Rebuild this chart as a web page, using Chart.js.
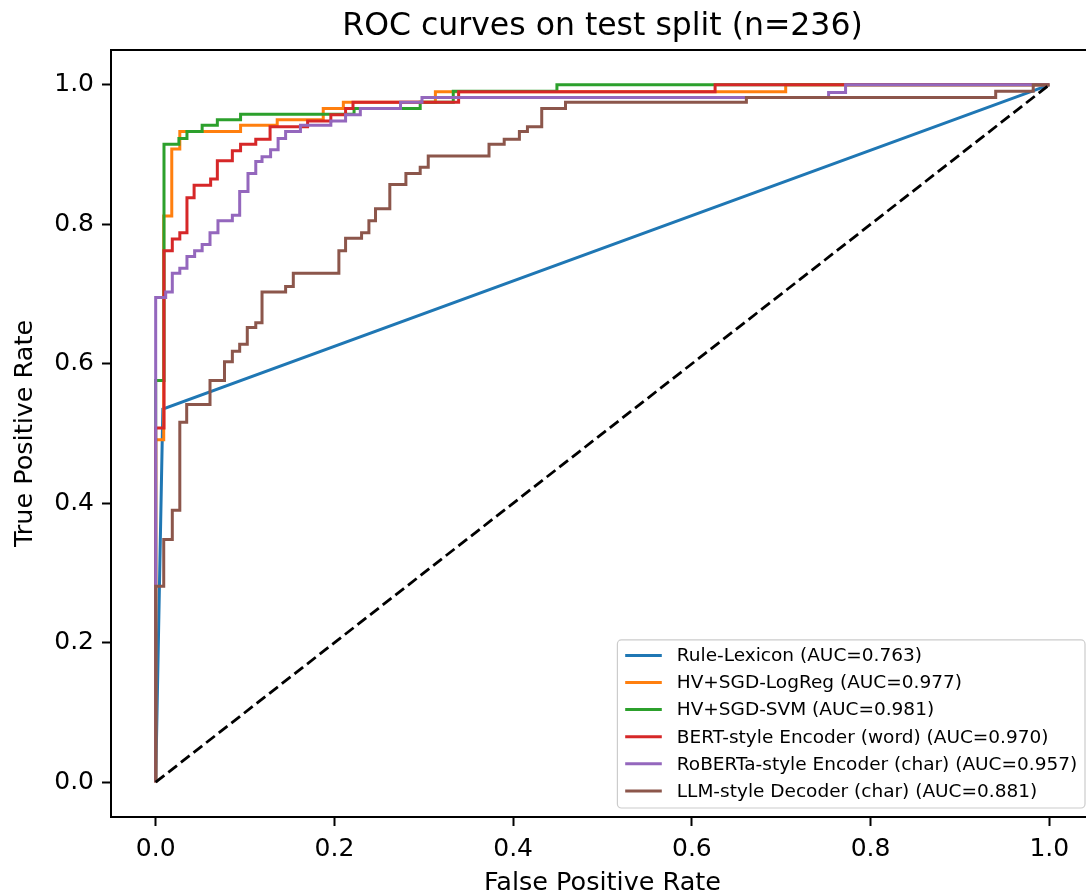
<!DOCTYPE html>
<html>
<head>
<meta charset="utf-8">
<title>ROC curves</title>
<script src="https://cdn.jsdelivr.net/npm/chart.js@4.4.1/dist/chart.umd.min.js"></script>
<style>
html,body{margin:0;padding:0;background:#fff;overflow:hidden;}
#wrap{width:1100px;height:910px;}
</style>
</head>
<body>
<div id="wrap"><canvas id="rocChart" width="1100" height="910"></canvas></div>
<script>
// =========================
// DATA
// =========================
const tickValues = [0, 0.2, 0.4, 0.6, 0.8, 1.0];

const modelNames = ['Rule-Lexicon', 'HV+SGD-LogReg', 'HV+SGD-SVM',
  'BERT-style Encoder (word)', 'RoBERTa-style Encoder (char)', 'LLM-style Decoder (char)'];
const aucValues = [0.763, 0.977, 0.981, 0.970, 0.957, 0.881];
const lineColors = ['#1f77b4', '#ff7f0e', '#2ca02c', '#d62728', '#9467bd', '#8c564b'];

// chance line
const chanceFpr = [0, 1];
const chanceTpr = [0, 1];

// Rule-Lexicon (three points, straight segments)
const ruleFpr = [0, 0.008, 1];
const ruleTpr = [0, 0.535, 1];

// the others are staircases: each point is the top of a riser
const logregFpr = [0, 0, 0.009, 0.018, 0.027, 0.095, 0.136, 0.1875, 0.21, 0.313, 0.705, 1];
const logregTpr = [0, 0.491, 0.812, 0.908, 0.933, 0.942, 0.950, 0.966, 0.975, 0.990, 1.0, 1];

const svmFpr = [0, 0, 0.0093, 0.026, 0.035, 0.052, 0.069, 0.095, 0.222, 0.296, 0.333, 0.449, 1];
const svmTpr = [0, 0.576, 0.915, 0.923, 0.933, 0.942, 0.950, 0.958, 0.966, 0.975, 0.991, 1.0, 1];

const bertFpr = [0, 0, 0.0093, 0.0186, 0.027, 0.035, 0.043, 0.0615, 0.069, 0.0858, 0.095,
  0.112, 0.128, 0.17, 0.196, 0.2125, 0.2208, 0.339, 0.626, 1];
const bertTpr = [0, 0.508, 0.762, 0.779, 0.788, 0.838, 0.856, 0.865, 0.891, 0.9055, 0.915,
  0.922, 0.940, 0.948, 0.957, 0.966, 0.975, 0.990, 1.0, 1];

const robertaFpr = [0, 0, 0.0112, 0.0186, 0.027, 0.035, 0.0436, 0.052, 0.0608, 0.0697, 0.0858,
  0.094, 0.1033, 0.112, 0.119, 0.1286, 0.137, 0.1454, 0.162, 0.196, 0.2125, 0.229, 0.274,
  0.298, 0.753, 0.772, 1];
const robertaTpr = [0, 0.695, 0.703, 0.730, 0.737, 0.754, 0.762, 0.771, 0.788, 0.805, 0.813,
  0.847, 0.873, 0.890, 0.897, 0.907, 0.923, 0.933, 0.942, 0.948, 0.957, 0.966, 0.975,
  0.982, 0.989, 1.0, 1];

const llmFpr = [0, 0, 0.009, 0.0186, 0.027, 0.0347, 0.0608, 0.077, 0.0858, 0.094, 0.1025,
  0.112, 0.119, 0.1454, 0.154, 0.205, 0.2125, 0.2304, 0.2386, 0.246, 0.262, 0.280, 0.296,
  0.305, 0.373, 0.39, 0.407, 0.416, 0.432, 0.4586, 0.661, 0.94, 0.982, 1];
const llmTpr = [0, 0.281, 0.348, 0.390, 0.516, 0.5417, 0.576, 0.603, 0.618, 0.628, 0.652,
  0.659, 0.703, 0.711, 0.730, 0.762, 0.780, 0.788, 0.805, 0.8225, 0.857, 0.873, 0.882,
  0.898, 0.915, 0.922, 0.933, 0.940, 0.966, 0.975, 0.982, 0.991, 1.0, 1];

const allFpr = [ruleFpr, logregFpr, svmFpr, bertFpr, robertaFpr, llmFpr];
const allTpr = [ruleTpr, logregTpr, svmTpr, bertTpr, robertaTpr, llmTpr];

function toPoints(xs, ys){
  return xs.map((x, i) => ({x: x, y: ys[i]}));
}

// =========================
// DATASETS
// =========================
const datasets = modelNames.map((name, i) => ({
  label: name + ' (AUC=' + aucValues[i].toFixed(3) + ')',
  data: toPoints(allFpr[i], allTpr[i]),
  borderColor: lineColors[i],
  backgroundColor: lineColors[i],
  borderWidth: 3,
  pointRadius: 0,
  showLine: true,
  fill: false,
  stepped: i === 0 ? false : 'before',
  order: 10 - i   // later curves sit on top, like matplotlib
}));
datasets.push({
  label: '',
  isChance: true,
  data: toPoints(chanceFpr, chanceTpr),
  borderColor: '#000',
  borderWidth: 2.8,
  borderDash: [11, 5],
  pointRadius: 0,
  showLine: true,
  fill: false,
  order: 0
});

// =========================
// PLUGINS
// =========================
// top spine only (the right one falls outside the window)
const topSpine = {
  id: 'topSpine',
  afterDatasetsDraw(chart){
    const ctx = chart.ctx, a = chart.chartArea;
    ctx.save();
    ctx.strokeStyle = '#000';
    ctx.lineWidth = 2;
    ctx.beginPath();
    ctx.moveTo(a.left - 1, a.top);
    ctx.lineTo(a.right, a.top);
    ctx.stroke();
    ctx.restore();
  }
};

// legend box inside the axes, lower right
const boxLegend = {
  id: 'boxLegend',
  afterDatasetsDraw(chart){
    const ctx = chart.ctx, a = chart.chartArea;
    const items = chart.data.datasets.filter(d => !d.isChance);
    const fontSize = 18.5, rowH = 27.1, pad = 7.8, handleLen = 36.6, handleGap = 15;
    ctx.save();
    ctx.font = fontSize + 'px "DejaVu Sans"';
    let maxW = 0;
    items.forEach(d => { maxW = Math.max(maxW, ctx.measureText(d.label).width); });
    const w = pad + handleLen + handleGap + maxW + pad;
    const h = items.length * rowH + 5.5;
    const right = a.right - 9, bottom = a.bottom - 9;
    const left = right - w, top = bottom - h;
    ctx.beginPath();
    ctx.roundRect(left, top, w, h, 4);
    ctx.fillStyle = 'rgba(255,255,255,0.8)';
    ctx.fill();
    ctx.strokeStyle = '#cccccc';
    ctx.lineWidth = 1.2;
    ctx.stroke();
    items.forEach((d, i) => {
      const y = top + 15.5 + i * rowH;
      ctx.beginPath();
      ctx.moveTo(left + pad, y);
      ctx.lineTo(left + pad + handleLen, y);
      ctx.strokeStyle = d.borderColor;
      ctx.lineWidth = 3;
      ctx.stroke();
      ctx.fillStyle = '#000';
      ctx.textAlign = 'left';
      ctx.textBaseline = 'middle';
      ctx.fillText(d.label, left + pad + handleLen + handleGap, y + 1);
    });
    ctx.restore();
  }
};

// =========================
// CHART
// =========================
Chart.defaults.font.family = '"DejaVu Sans", sans-serif';
Chart.defaults.color = '#000';

function axisOptions(titleText, isX){
  return {
    type: 'linear',
    min: -0.05,
    max: 1.05,
    afterBuildTicks: s => { s.ticks = tickValues.map(v => ({value: v})); },
    afterFit: s => { if(isX) s.height = 93; else s.width = 111; },
    ticks: {
      callback: v => Number(v).toFixed(1),
      font: {size: 25},
      color: '#000',
      padding: 8,
      maxRotation: 0
    },
    grid: {
      drawOnChartArea: false,
      drawTicks: true,
      tickLength: 9,
      tickWidth: 2,
      tickColor: '#000'
    },
    border: {display: true, color: '#000', width: 2},
    title: {
      display: true,
      text: titleText,
      font: {size: 25.5},
      color: '#000',
      padding: isX ? {top: 0, bottom: 11} : {top: 10.5, bottom: 0}
    }
  };
}

new Chart(document.getElementById('rocChart'), {
  type: 'scatter',
  data: {datasets: datasets},
  options: {
    responsive: false,
    animation: false,
    devicePixelRatio: 1,
    layout: {padding: {top: 0, right: 6, bottom: 0, left: 0}},
    scales: {
      x: axisOptions('False Positive Rate', true),
      y: axisOptions('True Positive Rate', false)
    },
    plugins: {
      legend: {display: false},
      tooltip: {enabled: false},
      title: {
        display: true,
        fullSize: false,   // centre over the axes, not the canvas
        text: 'ROC curves on test split (n=236)',
        font: {size: 31.5, weight: 'normal'},
        color: '#000',
        padding: {top: 7.6, bottom: 4.6}
      }
    }
  },
  plugins: [topSpine, boxLegend]
});
</script>
</body>
</html>
